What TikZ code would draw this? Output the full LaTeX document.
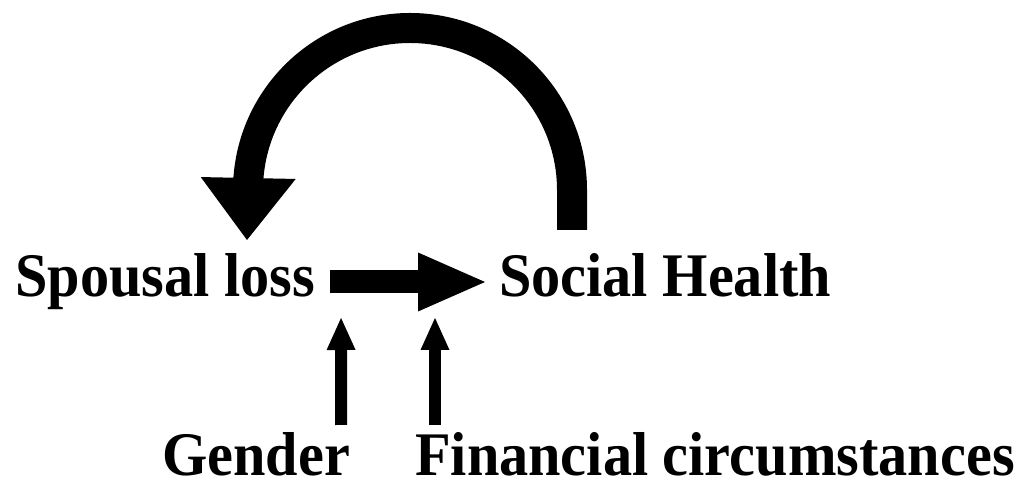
\documentclass[tikz,border=0pt]{standalone}
\usepackage{fontspec}
\setmainfont{Liberation Serif}[FakeStretch=0.94]
\usepackage{tikz}
\usetikzlibrary{arrows.meta,calc}

\begin{document}
\begin{tikzpicture}[
  x=1pt, y=1pt,
  lbl/.style={font=\fontsize{62}{70}\selectfont\bfseries, inner sep=0pt,
              anchor=base west},
  fat/.style={-{Triangle[width=59pt, length=67pt, line width=0pt]},
              line width=23pt},
  loopy/.style={-{Triangle[width=95pt, length=62pt, line width=0pt]},
                line width=30pt},
  mod/.style={-{Triangle[width=29pt, length=32pt, line width=0pt]},
              line width=12pt},
]
\useasboundingbox (0,0) rectangle (1031,489);

\node[lbl] (loss)   at (15,192)  {Spousal loss};
\node[lbl] (health) at (499,192) {Social Health};
\node[lbl] (gender) at (162,13)  {Gender};
\node[lbl] (money)  at (415,13)  {Financial circumstances};

\draw[fat] ($(loss.base east)+(15,15)$) -- ($(health.base west)+(-14,15)$);
\draw[mod] ($(gender.base east)+(-9,51)$) -- ($(loss.base east)+(26,-21)$);
\draw[mod] ($(money.base west)+(20,51)$) -- ($(health.base west)+(-64,-21)$);
\draw[loopy] ($(health.base west)+(73,67)$) -- ++(0,40)
  arc[start angle=0, end angle=180, radius=162]
  -- ($(loss.base west)+(232,57)$);
\end{tikzpicture}
\end{document}
